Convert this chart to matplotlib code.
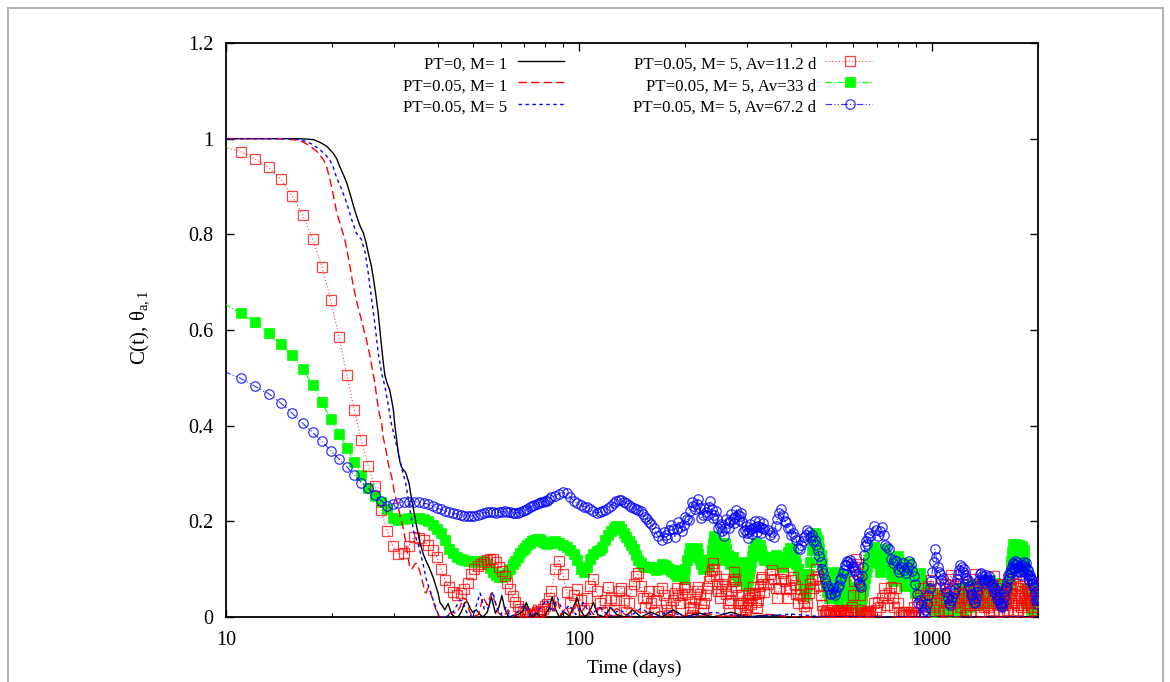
import numpy as np
import matplotlib
matplotlib.use("Agg")
import matplotlib.pyplot as plt
from matplotlib.ticker import FuncFormatter, NullFormatter, FixedLocator
from matplotlib.patches import Rectangle

plt.rcParams['font.family'] = ['Liberation Serif', 'DejaVu Serif']
plt.rcParams['mathtext.fontset'] = 'custom'
plt.rcParams['mathtext.rm'] = 'Liberation Serif'
plt.rcParams['mathtext.it'] = 'Liberation Serif:italic'

# ---------------- data ----------------
# the averaged series are sampled every 1.1 days; thinned at late times
step_days = 1.1
t_avg = np.round(np.concatenate([
    np.arange(9, 51), np.arange(51, 77), np.arange(78, 153, 2), np.arange(156, 305, 2),
    np.arange(312, 609, 4), np.arange(624, 1825, 8)]) * step_days, 1)

av11_vals = [
    # 9.9 .. 55.0
    .982, .973, .957, .940, .915, .880, .840, .791, .732, .663, .586, .506, .433, .369,
    .316, .273, .224, .180, .149, .132, .133, .149, .168, .166, .160, .150, .140, .125,
    .100, .077, .062, .052, .047, .050, .058, .072, .090, .100, .106, .111, .116, .120,
    # 56.1 .. 83.6
    .121, .121, .114, .104, .096, .086, .072, .058, .044, .032, .023, .017, .012, .008,
    .005, .004, .005, .006, .008, .010, .013, .017, .022, .028, .040, .055,
    # 85.8 .. 167.2
    .100, .118, .090, .052, .030, .045, .058, .035, .015, .040, .065, .080, .055, .030,
    .010, .035, .062, .040, .015, .035, .055, .060, .035, .010, .030, .055, .070, .085,
    .092, .065, .040, .020, .040, .055, .030, .010, .035, .055,
    # 171.6 .. 334.4 (every 2.2 d)
    .060, .045, .030, .015, .005, .020, .035, .050, .060, .045, .030, .045, .058, .062,
    .048, .032, .018, .005, .020, .038, .055, .063, .048, .030, .015, .030, .045, .060,
    .075, .085, .098, .112, .100, .085, .070, .055, .040, .055, .070, .080, .065, .048,
    .030, .015, .035, .055, .075, .095, .080, .062, .045, .030, .015, .030, .045, .030,
    .015, .005, .020, .035, .050, .040, .028, .045, .062, .048, .032, .018, .035, .050,
    .065, .080, .084, .068, .052,
    # 343.2 .. 668.8 (every 4.4 d)
    .070, .090, .098, .080, .060, .040, .060, .080, .092, .075, .058, .040, .060, .078,
    .084, .066, .048, .030, .045, .058, .040, .022, .010, .030, .050, .070, .077, .060,
    .080, .100, .085, .065, .045, .025, .012, .006, .010, .015, .008, .004, .010, .014,
    .006, .003, .008, .012, .005, .010, .015, .008, .004, .010, .014, .006, .010, .015,
    .008, .020, .045, .075, .105, .122, .110, .080, .045, .015, .008, .004, .010, .006,
    .003, .008, .012, .005, .010,
    # 686.4 .. 2006.4 (every 8.8 d)
    .030, .015, .032, .020, .040, .060, .045, .025, .050, .063, .040, .020, .060, .030,
    .011, .005, .010, .004, .011, .006, .003, .010, .005, .020, .004, .030, .010, .045,
    .020, .060, .035, .010, .040, .065, .035, .077, .050, .020, .005, .030, .050, .015,
    .060, .035, .010, .045, .070, .040, .015, .055, .080, .088, .060, .030, .065, .040,
    .010, .035, .050, .020, .040, .070, .045, .015, .005, .030, .055, .025, .008, .040,
    .080, .055, .030, .090, .060, .025, .045, .065, .035, .010, .030, .050, .020, .060,
    .075, .045, .020, .005, .030, .060, .035, .015, .045, .085, .055, .030, .060, .040,
    .010, .025, .050, .030, .070, .045, .005, .025, .055, .030, .015, .040, .080, .050,
    .035, .060, .030, .010, .030, .070, .045, .090, .060, .025, .015, .040, .065, .040,
    .020, .055, .075, .040, .025, .050, .030, .010, .035, .060, .080, .050, .030, .055,
    .020, .045, .070, .040, .015, .035, .060, .030, .050, .020, .035,
]

av33_vals = [
    # 9.9 .. 55.0
    .655, .635, .616, .593, .570, .547, .518, .485, .449, .414, .383, .354, .325, .297,
    .270, .254, .241, .225, .208, .203, .204, .206, .207, .208, .205, .201, .193, .185,
    .175, .160, .143, .133, .126, .122, .119, .118, .117, .116, .117, .118, .117, .110,
    # 56.1 .. 83.6
    .102, .094, .087, .084, .084, .088, .093, .100, .110, .118, .126, .134, .140, .145,
    .150, .155, .159, .162, .164, .164, .161, .157, .154, .153, .155, .157,
    # 85.8 .. 167.2
    .158, .155, .151, .146, .140, .131, .120, .100, .094, .105, .122, .132, .137, .140,
    .146, .160, .172, .180, .186, .190, .191, .185, .176, .168, .158, .150, .142, .130,
    .120, .112, .106, .104, .104, .105, .104, .102, .099, .100,
    # 171.6 .. 334.4 (every 2.2 d)
    .110, .108, .106, .103, .100, .097, .094, .090, .086, .092, .098, .088, .080, .100,
    .120, .132, .145, .135, .125, .135, .145, .132, .120, .110, .100, .110, .120, .112,
    .105, .122, .140, .155, .170, .158, .145, .132, .120, .130, .140, .148, .155, .142,
    .130, .120, .110, .118, .125, .112, .100, .088, .075, .085, .095, .105, .115, .102,
    .090, .078, .065, .078, .090, .102, .115, .128, .140, .148, .155, .145, .135, .142,
    .150, .140, .130, .125, .120,
    # 343.2 .. 668.8 (every 4.4 d)
    .125, .115, .110, .120, .130, .122, .115, .108, .105, .115, .125, .135, .145, .138,
    .130, .120, .110, .100, .090, .080, .070, .058, .045, .065, .090, .115, .140, .160,
    .175, .168, .160, .145, .130, .112, .095, .080, .065, .052, .040, .055, .070, .082,
    .095, .078, .060, .045, .030, .045, .060, .075, .090, .080, .070, .058, .045, .035,
    .025, .035, .045, .055, .062, .048, .035, .025, .015, .028, .040, .055, .070, .082,
    .095, .105, .115, .122, .130,
    # 686.4 .. 2006.4 (every 8.8 d)
    .147, .130, .112, .095, .112, .130, .142, .125, .108, .090, .075, .092, .110, .128,
    .115, .098, .080, .065, .080, .098, .112, .098, .082, .065, .050, .065, .080, .092,
    .078, .062, .045, .030, .045, .060, .050, .035, .020, .008, .020, .035, .048, .035,
    .020, .005, .020, .035, .042, .028, .012, .005, .018, .032, .040, .025, .010, .020,
    .035, .050, .060, .045, .030, .015, .030, .048, .063, .050, .035, .020, .035, .050,
    .068, .055, .040, .025, .040, .055, .070, .058, .042, .028, .045, .060, .075, .060,
    .045, .030, .048, .062, .077, .062, .045, .030, .045, .060, .072, .058, .042, .028,
    .042, .058, .070, .055, .040, .025, .040, .055, .068, .052, .038, .055, .070, .085,
    .100, .118, .135, .152, .140, .125, .140, .153, .138, .122, .138, .150, .135, .120,
    .135, .148, .132, .118, .140, .100, .060, .045, .030, .045, .060, .045, .030, .015,
    .030, .045, .060, .045, .030, .045, .060, .045, .030, .045, .055,
]

av67_vals = [
    # 9.9 .. 55.0
    .513, .499, .482, .467, .447, .426, .405, .386, .367, .348, .330, .314, .297, .281,
    .269, .255, .243, .233, .237, .239, .240, .241, .241, .240, .238, .236, .232, .228,
    .225, .222, .219, .217, .215, .213, .212, .211, .211, .212, .214, .216, .218, .219,
    # 56.1 .. 83.6
    .219, .219, .218, .219, .220, .221, .220, .219, .218, .217, .218, .219, .221, .223,
    .226, .229, .232, .235, .237, .239, .240, .241, .242, .243, .246, .250,
    # 85.8 .. 167.2
    .254, .258, .261, .259, .250, .243, .238, .234, .231, .229, .225, .221, .218, .219,
    .221, .224, .228, .233, .238, .243, .245, .244, .241, .238, .235, .231, .228, .226,
    .224, .222, .216, .210, .204, .199, .194, .187, .178, .170,
    # 171.6 .. 334.4 (every 2.2 d)
    .160, .177, .172, .166, .182, .192, .183, .168, .184, .198, .188, .180, .193, .210,
    .205, .202, .222, .240, .232, .226, .237, .246, .228, .208, .214, .227, .220, .214,
    .231, .242, .225, .208, .214, .222, .205, .186, .190, .195, .179, .170, .186, .204,
    .196, .187, .201, .215, .205, .196, .210, .224, .213, .202, .211, .217, .198, .178,
    .182, .190, .176, .166, .180, .195, .185, .174, .187, .200, .188, .177, .190, .201,
    .188, .175, .186, .197, .185,
    # 343.2 .. 668.8 (every 4.4 d)
    .182, .172, .178, .168, .190, .205, .218, .225, .212, .200, .198, .186, .186, .172,
    .176, .168, .160, .145, .142, .150, .158, .168, .172, .182, .178, .168, .172, .158,
    .160, .150, .140, .128, .115, .100, .092, .080, .072, .065, .058, .048, .050, .060,
    .050, .045, .054, .062, .066, .078, .082, .092, .098, .108, .108, .118, .114, .120,
    .112, .104, .106, .096, .099, .090, .085, .072, .066, .062, .085, .105, .130, .148,
    .158, .152, .165, .175, .170,
    # 686.4 .. 2006.4 (every 8.8 d)
    .190, .182, .170, .180, .188, .172, .150, .146, .142, .122, .112, .120, .118, .100,
    .095, .105, .112, .098, .092, .105, .118, .110, .096, .085, .070, .048, .030, .035,
    .025, .010, .005, .015, .028, .045, .060, .075, .095, .115, .142, .125, .105, .095,
    .090, .078, .082, .068, .060, .052, .040, .030, .025, .035, .042, .050, .058, .072,
    .080, .090, .098, .108, .105, .095, .100, .088, .082, .075, .078, .065, .058, .048,
    .045, .038, .032, .030, .040, .052, .065, .078, .090, .092, .085, .078, .072, .080,
    .088, .082, .075, .085, .078, .068, .062, .070, .060, .052, .058, .048, .040, .035,
    .042, .030, .022, .028, .020, .030, .042, .055, .065, .060, .075, .088, .082, .095,
    .100, .092, .105, .112, .102, .110, .118, .108, .115, .105, .096, .104, .095, .088,
    .098, .106, .096, .108, .115, .105, .112, .100, .090, .098, .085, .078, .088, .080,
    .072, .078, .068, .060, .065, .050, .042, .035, .028, .035, .040,
]

pt0_t = [10.0, 14.0, 16.0, 17.0, 17.7, 18.5, 19.3, 20.1, 20.6, 21.0, 21.5, 22.0, 22.5, 23.0,
         23.5, 24.0, 24.5, 24.9, 25.3, 25.8, 26.2, 26.6, 27.0, 27.3, 27.6, 27.9, 28.2, 28.6,
         29.1, 29.5, 29.8, 30.1, 30.4, 30.7, 31.1, 31.4, 31.8, 32.3, 33.0, 33.6, 34.0, 34.7,
         35.4, 36.2, 37.0, 37.4, 38.6, 39.5, 39.9, 40.4, 40.9, 41.7, 42.6, 43.6, 44.5, 45.5,
         46.5, 47.5, 48.3, 49.2, 50.0, 51.2, 52.5, 53.5, 55.0, 56.5, 58.0, 59.3, 60.5, 61.5,
         63.0, 65.0, 67.0, 69.0, 71.0, 72.5, 74.0, 76.0, 78.0, 80.0, 82.0, 84.0, 86.0, 88.0,
         91.0, 94.0, 97.0, 99.0, 101.0, 104.0, 107.0, 110.0, 113.0, 118.0, 123.0, 128.0,
         135.0, 142.0, 150.0, 160.0, 172.0, 185.0, 200.0, 220.0, 240.0, 270.0, 300.0, 350.0,
         400.0, 2000.0]
pt0_vals = [1.000, 1.000, 1.000, 0.999, 0.998, 0.992, 0.984, 0.970, 0.958, 0.942, 0.925, 0.907,
            0.883, 0.858, 0.836, 0.817, 0.803, 0.785, 0.761, 0.735, 0.705, 0.672, 0.635, 0.600,
            0.565, 0.533, 0.505, 0.489, 0.475, 0.452, 0.433, 0.400, 0.375, 0.349, 0.325, 0.314,
            0.308, 0.302, 0.280, 0.245, 0.225, 0.189, 0.158, 0.132, 0.115, 0.108, 0.084, 0.060,
            0.050, 0.030, 0.025, 0.015, 0.028, 0.006, 0.000, 0.000, 0.012, 0.030, 0.032, 0.018,
            0.010, 0.015, 0.005, 0.000, 0.010, 0.042, 0.008, 0.020, 0.045, 0.020, 0.002, 0.000,
            0.005, 0.010, 0.030, 0.010, 0.000, 0.008, 0.000, 0.005, 0.015, 0.042, 0.015, 0.000,
            0.010, 0.002, 0.025, 0.040, 0.015, 0.000, 0.010, 0.030, 0.005, 0.000, 0.020, 0.005,
            0.000, 0.015, 0.000, 0.010, 0.000, 0.015, 0.000, 0.008, 0.000, 0.010, 0.000, 0.005,
            0.000, 0.000]

m1_t = [10.0, 14.0, 15.0, 16.2, 17.3, 18.1, 18.9, 19.3, 19.7, 20.0, 20.3, 20.6, 21.0, 21.3,
        21.7, 22.0, 22.4, 22.7, 23.0, 23.4, 23.8, 24.2, 24.6, 25.0, 25.3, 25.6, 26.1, 26.4,
        26.8, 27.2, 27.6, 27.9, 28.2, 28.5, 28.8, 29.1, 29.5, 30.0, 30.4, 30.8, 31.3, 31.8,
        32.2, 32.5, 32.9, 33.2, 33.6, 34.0, 34.4, 34.7, 35.1, 35.4, 35.8, 36.2, 36.6, 36.9,
        37.3, 37.7, 38.2, 38.6, 39.0, 39.5, 39.9, 40.5, 42.0, 43.5, 45.0, 46.0, 47.0, 48.0,
        49.0, 50.0, 52.0, 53.5, 55.0, 56.5, 58.0, 59.0, 61.0, 63.0, 65.0, 67.0, 69.0, 71.0,
        73.0, 75.0, 77.0, 79.0, 82.0, 85.0, 87.0, 89.0, 92.0, 95.0, 98.0, 101.0, 105.0, 110.0,
        115.0, 120.0, 128.0, 136.0, 145.0, 155.0, 170.0, 190.0, 220.0, 260.0, 320.0, 400.0,
        2000.0]
m1_vals = [1.000, 1.000, 0.999, 0.996, 0.985, 0.973, 0.956, 0.940, 0.915, 0.893, 0.870, 0.845,
           0.825, 0.810, 0.790, 0.768, 0.738, 0.712, 0.688, 0.663, 0.641, 0.621, 0.600, 0.580,
           0.562, 0.545, 0.510, 0.490, 0.454, 0.425, 0.405, 0.375, 0.360, 0.342, 0.322, 0.308,
           0.292, 0.260, 0.245, 0.228, 0.205, 0.185, 0.163, 0.145, 0.120, 0.102, 0.100, 0.106,
           0.112, 0.112, 0.104, 0.096, 0.083, 0.068, 0.052, 0.050, 0.060, 0.062, 0.045, 0.035,
           0.024, 0.012, 0.004, 0.000, 0.000, 0.010, 0.008, 0.020, 0.040, 0.036, 0.012, 0.000,
           0.005, 0.042, 0.025, 0.050, 0.030, 0.010, 0.000, 0.015, 0.000, 0.012, 0.000, 0.020,
           0.005, 0.030, 0.010, 0.000, 0.025, 0.010, 0.035, 0.005, 0.020, 0.000, 0.030, 0.008,
           0.025, 0.005, 0.020, 0.000, 0.018, 0.004, 0.015, 0.000, 0.012, 0.000, 0.010, 0.000,
           0.008, 0.000, 0.000]

m5_t = [10.0, 15.0, 16.2, 17.0, 17.7, 18.3, 18.9, 19.5, 20.0, 20.6, 21.3, 22.0, 22.7, 23.4,
        24.2, 24.8, 25.3, 25.8, 26.4, 27.0, 27.6, 28.2, 28.8, 29.4, 30.0, 30.7, 31.4, 32.3,
        33.2, 34.0, 35.1, 36.2, 36.9, 38.2, 39.5, 40.2, 42.0, 44.0, 46.0, 47.0, 48.0, 50.0,
        52.5, 54.0, 55.5, 57.0, 58.5, 60.0, 62.0, 64.0, 67.0, 70.0, 73.0, 77.0, 81.0, 84.0,
        87.0, 90.0, 94.0, 98.0, 103.0, 108.0, 115.0, 122.0, 130.0, 140.0, 150.0, 165.0, 180.0,
        200.0, 240.0, 300.0, 400.0, 500.0, 2000.0]
m5_vals = [1.000, 1.000, 0.998, 0.993, 0.987, 0.979, 0.970, 0.960, 0.946, 0.918, 0.893, 0.865,
           0.831, 0.803, 0.789, 0.761, 0.719, 0.670, 0.614, 0.552, 0.510, 0.482, 0.445, 0.405,
           0.377, 0.349, 0.314, 0.280, 0.225, 0.180, 0.150, 0.110, 0.080, 0.046, 0.015, 0.000,
           0.000, 0.010, 0.036, 0.030, 0.010, 0.000, 0.050, 0.015, 0.020, 0.053, 0.020, 0.005,
           0.020, 0.000, 0.010, 0.025, 0.000, 0.015, 0.036, 0.010, 0.040, 0.010, 0.025, 0.005,
           0.030, 0.005, 0.020, 0.000, 0.015, 0.002, 0.018, 0.000, 0.012, 0.000, 0.010, 0.000,
           0.006, 0.000, 0.000]

legend_col1 = ["PT=0, M= 1", "PT=0.05, M= 1", "PT=0.05, M= 5"]
legend_col2 = ["PT=0.05, M= 5, Av=11.2 d", "PT=0.05, M= 5, Av=33 d", "PT=0.05, M= 5, Av=67.2 d"]

for _name, _vals in [("av11", av11_vals), ("av33", av33_vals), ("av67", av67_vals)]:
    assert len(_vals) == len(t_avg), (_name, len(_vals), len(t_avg))

# ---------------- figure ----------------
W, H = 1170, 682
fig = plt.figure(figsize=(W / 100, H / 100), dpi=100)
ax = fig.add_axes([226 / W, (H - 617) / H, (1038 - 226) / W, (617 - 43) / H])

st_pt0 = dict(color='black', lw=1.0, linestyle='-')
st_m1 = dict(color='#ff0000', lw=1.0, linestyle=(0, (6, 3)))
st_m5 = dict(color='#0000ff', lw=1.0, linestyle=(0, (2.5, 2.5)))
st_av11 = dict(color='#ff0000', lw=0.8, linestyle=(0, (1, 2)), marker='s', ms=6.6,
               mfc='none', mec='#ff0000', mew=0.9, alpha=0.75)
st_av33 = dict(color='#00ff00', lw=0.8, linestyle=(0, (6, 2, 1, 2)), marker='s', ms=6.6,
               mfc='#00ff00', mec='#00ff00', mew=0.5)
st_av67 = dict(color='#0000ff', lw=0.8, linestyle=(0, (6, 2, 1, 2, 1, 2)), marker='o', ms=6.8,
               mfc='none', mec='#0000ff', mew=0.9, alpha=0.8)

marks = range(1, len(t_avg))
ax.plot(t_avg, av33_vals, markevery=marks, zorder=3, **st_av33)
ax.plot(t_avg, av11_vals, markevery=marks, zorder=4, **st_av11)
ax.plot(t_avg, av67_vals, markevery=marks, zorder=5, **st_av67)
ax.plot(pt0_t, pt0_vals, zorder=6, **st_pt0)
ax.plot(m1_t, m1_vals, zorder=6, **st_m1)
ax.plot(m5_t, m5_vals, zorder=6, **st_m5)

ax.set_xscale('log')
ax.set_xlim(10, 2000)
ax.set_ylim(0, 1.2)
ax.set_yticks([0, 0.2, 0.4, 0.6, 0.8, 1.0, 1.2])
ax.yaxis.set_major_formatter(FuncFormatter(lambda v, p: f"{v:g}"))
ax.xaxis.set_major_locator(FixedLocator([10, 100, 1000]))
ax.xaxis.set_major_formatter(FuncFormatter(lambda v, p: f"{v:g}"))
ax.xaxis.set_minor_formatter(NullFormatter())
ax.tick_params(which='both', direction='in', top=True, right=True, labelsize=14.5)
ax.tick_params(which='major', length=6, width=1.0)
ax.tick_params(which='minor', length=3, width=0.8)
ax.tick_params(axis='x', pad=10)
ax.tick_params(axis='y', pad=9)
for s in ax.spines.values():
    s.set_linewidth(1.3)

fig.text(140 / W, 1 - 328 / H, "C(t), θ$_{\\mathrm{a,1}}$", rotation=90,
         ha='center', va='center', fontsize=15)
fig.text(634 / W, 1 - 668 / H, "Time (days)", ha='center', va='center', fontsize=14)

# manual gnuplot-style key
def ax_x(px):
    return (px - 226) / 812

def ax_y(py):
    return (617 - py) / 574

rows_base = [68.5, 90.2, 111.8]
rows_line = [61, 82.4, 104]
for lab, st, yb, yl in zip(legend_col1, [st_pt0, st_m1, st_m5], rows_base, rows_line):
    ax.text(ax_x(507), ax_y(yb), lab, transform=ax.transAxes, ha='right', va='baseline',
            fontsize=12.2)
    ax.plot([ax_x(518), ax_x(564)], [ax_y(yl)] * 2, transform=ax.transAxes, clip_on=False,
            **st)
for lab, st, yb, yl in zip(legend_col2, [st_av11, st_av33, st_av67], rows_base, rows_line):
    ax.text(ax_x(816), ax_y(yb), lab, transform=ax.transAxes, ha='right', va='baseline',
            fontsize=12.2)
    line_st = {k: v for k, v in st.items() if k not in ('marker', 'ms', 'mfc', 'mec', 'mew')}
    ax.plot([ax_x(825), ax_x(872)], [ax_y(yl)] * 2, transform=ax.transAxes, clip_on=False,
            **line_st)
    ax.plot([ax_x(850)], [ax_y(yl)], transform=ax.transAxes, clip_on=False,
            **{k: v for k, v in st.items() if k != 'linestyle'})

fig.add_artist(Rectangle((8 / W, -0.1), (1163 - 8) / W, (H - 8) / H + 0.1,
                         transform=fig.transFigure, fill=False, ec='#b4b4b4', lw=1.5))

fig.savefig("out.png", dpi=100)
